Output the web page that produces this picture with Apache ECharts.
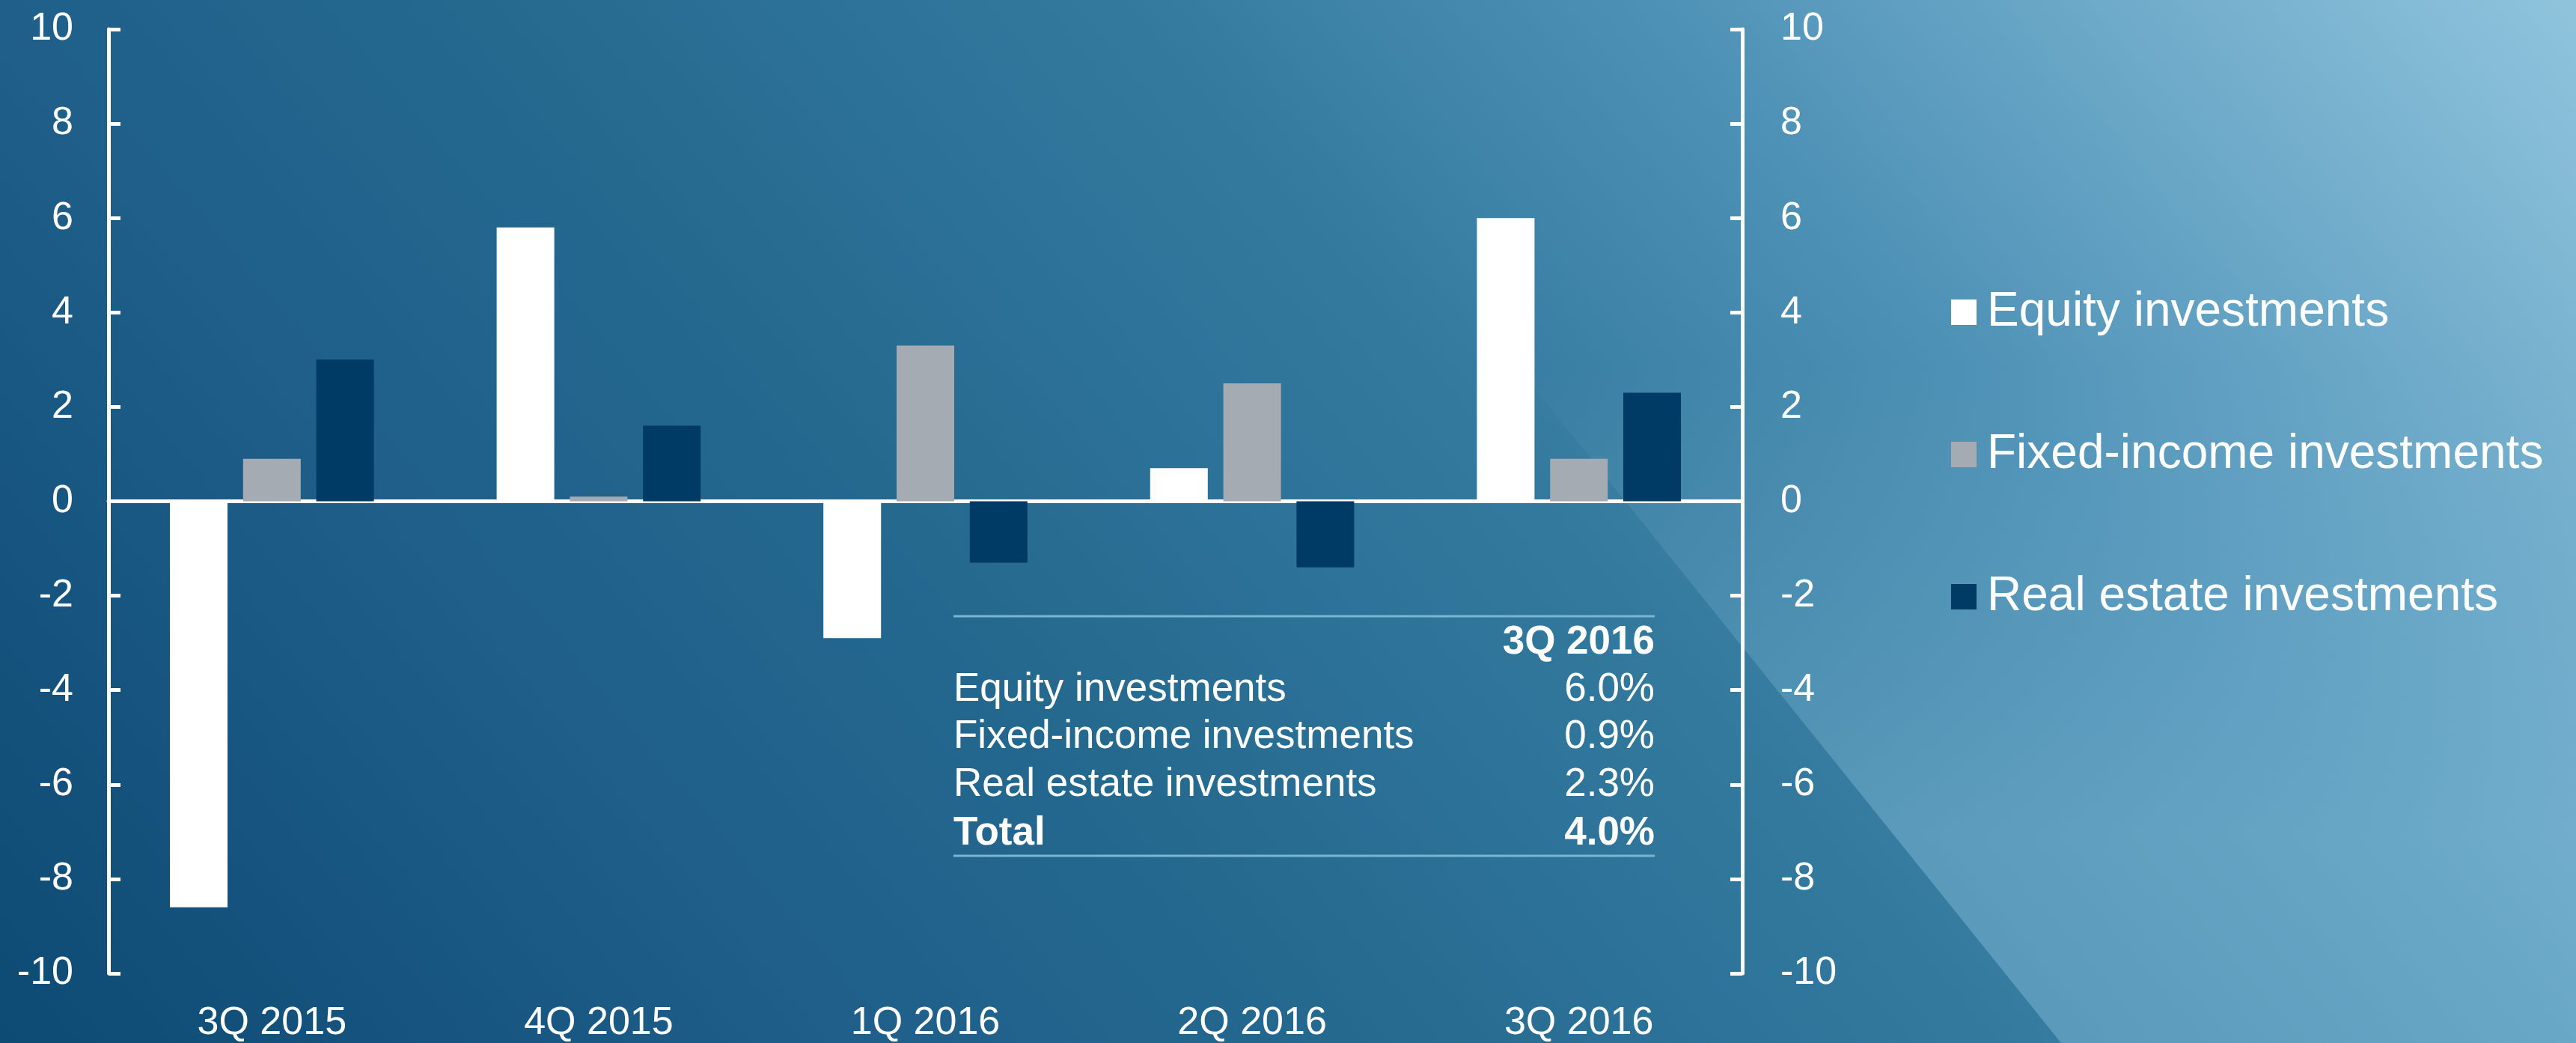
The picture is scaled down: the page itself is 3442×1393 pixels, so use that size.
<!DOCTYPE html>
<html>
<head>
<meta charset="utf-8">
<script src="https://cdn.jsdelivr.net/npm/echarts@6/dist/echarts.min.js"></script>
<style>
  html, body { margin: 0; padding: 0; width: 3442px; height: 1393px; overflow: hidden; }
  body {
    background: linear-gradient(50deg, #0d4a74 0%, #1f5f8a 25%, #25698f 39%, #347a9f 58.5%, #4f92b7 73.7%, #90c4dd 100%);
    position: relative;
  }
  #shade {
    position: absolute; left: 0; top: 0; width: 3442px; height: 1393px;
    clip-path: polygon(1633px 0px, 3442px 0px, 3442px 1393px, 2754px 1393px);
    background: linear-gradient(to bottom, rgba(140,195,220,0) 0%, rgba(140,195,220,0) 35%, rgba(140,195,220,0.42) 80%, rgba(140,195,220,0.42) 100%);
  }
  #chart { position: absolute; left: 0; top: 0; width: 3442px; height: 1393px; }
</style>
</head>
<body>
<div id="shade"></div>
<div id="chart"></div>
<script>
// ---- data ----
const categories = ['3Q 2015', '4Q 2015', '1Q 2016', '2Q 2016', '3Q 2016'];
const seriesNames = ['Equity investments', 'Fixed-income investments', 'Real estate investments'];
const equity = [-8.6, 5.8, -2.9, 0.7, 6.0];
const fixedIncome = [0.9, 0.1, 3.3, 2.5, 0.9];
const realEstate = [3.0, 1.6, -1.3, -1.4, 2.3];
const tableHeader = '3Q 2016';
const tableRows = ['Equity investments', 'Fixed-income investments', 'Real estate investments', 'Total'];
const tableValues = ['6.0%', '0.9%', '2.3%', '4.0%'];
const yMin = -10, yMax = 10, yStep = 2;

// ---- style ----
const FONT = "'Liberation Sans', Arial, sans-serif";
const colors = ['#ffffff', '#a4abb2', '#003b66'];

const chart = echarts.init(document.getElementById('chart'), null, { renderer: 'canvas' });

function yAxisCfg(pos, margin) {
  return {
    type: 'value', position: pos, min: yMin, max: yMax, interval: yStep,
    axisLine: { show: true, onZero: false, lineStyle: { color: '#fff', width: 5 } },
    axisTick: { show: true, inside: true, length: 16, lineStyle: { color: '#fff', width: 5 } },
    axisLabel: { color: '#fff', fontSize: 52, fontFamily: FONT, margin: margin },
    splitLine: { show: false }
  };
}

// table graphics
const tLeft = 1274, tRight = 2211;
const graphics = [];
graphics.push({ type: 'line', shape: { x1: tLeft, y1: 823, x2: tRight, y2: 823 }, style: { stroke: '#79b6d6', lineWidth: 3 } });
graphics.push({ type: 'line', shape: { x1: tLeft, y1: 1143, x2: tRight, y2: 1143 }, style: { stroke: '#79b6d6', lineWidth: 3 } });
graphics.push({ type: 'text', x: tRight, y: 858, style: { text: tableHeader, fill: '#fff', font: 'bold 53px ' + FONT, textAlign: 'right', textVerticalAlign: 'middle' } });
const rowY = [921, 984, 1048, 1113];
tableRows.forEach((r, i) => {
  const bold = i === tableRows.length - 1 ? 'bold ' : '';
  graphics.push({ type: 'text', x: tLeft, y: rowY[i], style: { text: r, fill: '#fff', font: bold + '53px ' + FONT, textAlign: 'left', textVerticalAlign: 'middle' } });
  graphics.push({ type: 'text', x: tRight, y: rowY[i], style: { text: tableValues[i], fill: '#fff', font: bold + '53px ' + FONT, textAlign: 'right', textVerticalAlign: 'middle' } });
});

const dataSets = [equity, fixedIncome, realEstate];

chart.setOption({
  backgroundColor: 'transparent',
  animation: false,
  textStyle: { fontFamily: FONT },
  grid: { left: 145, right: 1114, top: 39, bottom: 88, containLabel: false },
  legend: {
    orient: 'vertical', left: 2602, top: 380,
    itemWidth: 34, itemHeight: 34, itemGap: 126,
    icon: 'rect',
    data: seriesNames,
    textStyle: { color: '#fff', fontSize: 64, fontFamily: FONT, lineHeight: 64, padding: [0, 0, 0, 9] }
  },
  xAxis: [
    {
      type: 'category', data: categories, position: 'bottom',
      axisLine: { show: true, onZero: true, lineStyle: { color: '#fff', width: 5 } },
      axisTick: { show: false }, axisLabel: { show: false }, splitLine: { show: false }
    },
    {
      type: 'category', data: categories, position: 'bottom',
      axisLine: { show: false, onZero: false },
      axisTick: { show: false },
      axisLabel: { color: '#fff', fontSize: 52, fontFamily: FONT, margin: 41 },
      splitLine: { show: false }
    }
  ],
  yAxis: [yAxisCfg('left', 47), yAxisCfg('right', 51)],
  series: seriesNames.map((n, i) => ({
    name: n, type: 'bar', xAxisIndex: 0, yAxisIndex: 0,
    data: dataSets[i], barWidth: 77, barGap: '27%',
    itemStyle: { color: colors[i] }
  })),
  graphic: graphics
});
</script>
</body>
</html>
